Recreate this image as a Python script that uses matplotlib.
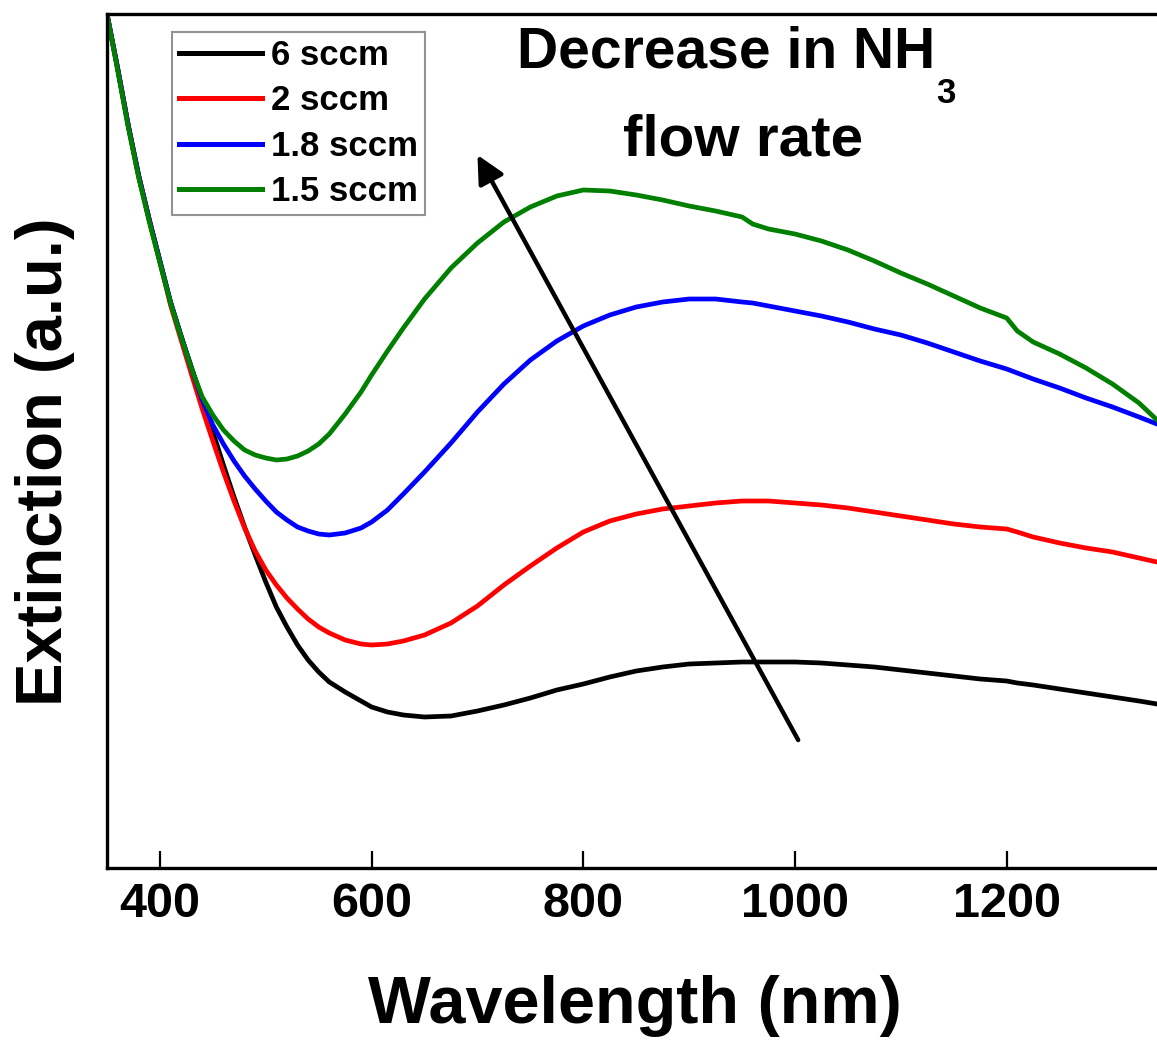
import matplotlib
matplotlib.use("Agg")
import matplotlib.pyplot as plt

plt.rcParams['font.family'] = ['Liberation Sans', 'DejaVu Sans']
plt.rcParams['font.weight'] = 'bold'

# Wavelength grid (nm)
wavelength = [350, 360, 370, 380, 390, 400, 410, 420, 430, 440, 450, 460, 470, 480,
              490, 500, 510, 520, 530, 540, 550, 560, 575, 590, 600, 615, 630, 650,
              675, 700, 725, 750, 775, 800, 825, 850, 875, 900, 925, 950, 960, 975,
              1000, 1025, 1050, 1075, 1100, 1125, 1150, 1175, 1200, 1210, 1225, 1250,
              1275, 1300, 1325, 1342]

# Extinction spectra (a.u.) for each NH3 flow rate
ext_6sccm = [8.54, 8.00, 7.43, 6.92, 6.48, 6.07, 5.66, 5.32, 5.00, 4.68, 4.36, 4.03, 3.71, 3.41,
             3.13, 2.86, 2.61, 2.41, 2.23, 2.08, 1.96, 1.86, 1.76, 1.67, 1.61, 1.56, 1.53, 1.51,
             1.52, 1.57, 1.63, 1.70, 1.78, 1.84, 1.91, 1.97, 2.01, 2.04, 2.05, 2.06, 2.06, 2.06,
             2.06, 2.05, 2.03, 2.01, 1.98, 1.95, 1.92, 1.89, 1.87, 1.85, 1.83, 1.79,
             1.75, 1.71, 1.67, 1.64]
ext_2sccm = [8.54, 8.00, 7.43, 6.92, 6.48, 6.06, 5.63, 5.28, 4.93, 4.59, 4.27, 3.96, 3.67, 3.40,
             3.17, 2.98, 2.83, 2.70, 2.59, 2.49, 2.41, 2.35, 2.28, 2.24, 2.23, 2.24, 2.27, 2.33,
             2.45, 2.62, 2.83, 3.02, 3.20, 3.36, 3.47, 3.54, 3.59, 3.62, 3.65, 3.67, 3.67, 3.67,
             3.65, 3.63, 3.60, 3.56, 3.52, 3.48, 3.44, 3.41, 3.39, 3.36, 3.31, 3.25,
             3.20, 3.16, 3.10, 3.06]
ext_1p8sccm = [8.54, 8.00, 7.43, 6.92, 6.48, 6.07, 5.66, 5.32, 4.99, 4.68, 4.43, 4.24, 4.07, 3.92,
               3.79, 3.67, 3.56, 3.48, 3.41, 3.37, 3.34, 3.33, 3.35, 3.40, 3.46, 3.58, 3.74, 3.96,
               4.25, 4.56, 4.84, 5.08, 5.27, 5.42, 5.53, 5.61, 5.66, 5.69, 5.69, 5.66, 5.65, 5.62,
               5.57, 5.52, 5.46, 5.39, 5.33, 5.25, 5.16, 5.07, 4.99, 4.95, 4.89, 4.80,
               4.70, 4.61, 4.51, 4.44]
ext_1p5sccm = [8.54, 7.98, 7.41, 6.90, 6.46, 6.05, 5.65, 5.31, 4.99, 4.71, 4.53, 4.38, 4.27, 4.18,
               4.13, 4.10, 4.08, 4.09, 4.12, 4.17, 4.24, 4.34, 4.54, 4.76, 4.93, 5.17, 5.40, 5.69,
               6.00, 6.25, 6.46, 6.61, 6.72, 6.78, 6.77, 6.73, 6.68, 6.62, 6.57, 6.51, 6.44, 6.39,
               6.34, 6.27, 6.18, 6.07, 5.95, 5.84, 5.72, 5.60, 5.50, 5.37, 5.26, 5.14,
               5.00, 4.84, 4.65, 4.48]

labels = ['6 sccm', '2 sccm', '1.8 sccm', '1.5 sccm']
colors = ['#000000', '#ff0000', '#0000ff', '#007f00']
series = [ext_6sccm, ext_2sccm, ext_1p8sccm, ext_1p5sccm]
xticks = [400, 600, 800, 1000, 1200]

fig = plt.figure(figsize=(11.57, 10.40), dpi=100)
ax = fig.add_axes([107 / 1157, 172 / 1040, 1050 / 1157, 854 / 1040])

for y, c, lab in zip(series, colors, labels):
    ax.plot(wavelength, y, color=c, lw=3.4, label=lab, solid_joinstyle='round')

ax.set_xlim(350, 1342)
ax.set_ylim(0, 8.54)
ax.set_xticks(xticks)
ax.set_yticks([])
ax.tick_params(axis='x', direction='in', length=12, width=1.6, pad=10, labelsize=35)
for side in ['left', 'bottom', 'top']:
    ax.spines[side].set_linewidth(2.4)
ax.spines['right'].set_visible(False)

# Arrow and note (the subscript 3 sits well below the baseline)
ax.annotate('', xy=(700, 7.13), xytext=(1003, 1.28),
            arrowprops=dict(arrowstyle='-|>', color='black', lw=3.2, mutation_scale=42,
                            shrinkA=0, shrinkB=0))
ax.text(737, 8.01, 'Decrease in NH', fontsize=41, fontweight='bold',
        ha='left', va='baseline')
ax.text(1143, 7.65, '3', fontsize=25, fontweight='bold', ha='center', va='baseline')
ax.text(951, 7.13, 'flow rate', fontsize=42, fontweight='bold', ha='center', va='baseline')

leg = ax.legend(loc='upper left', bbox_to_anchor=(0.062, 0.979), borderaxespad=0,
                fontsize=25, frameon=True, fancybox=False, handlelength=2.4,
                handletextpad=0.25, labelspacing=0.36, borderpad=0.2)
leg.get_frame().set_edgecolor('#777777')
leg.get_frame().set_linewidth(1.5)
for line in leg.get_lines():
    line.set_linewidth(3.6)

fig.text(635 / 1157, 1 - 1023 / 1040, 'Wavelength (nm)', fontsize=48, fontweight='bold',
         ha='center', va='baseline')
fig.text(62 / 1157, 1 - 462 / 1040, 'Extinction (a.u.)', fontsize=47, fontweight='bold',
         rotation=90, rotation_mode='anchor', ha='center', va='baseline')

fig.savefig('out.png', dpi=100)
